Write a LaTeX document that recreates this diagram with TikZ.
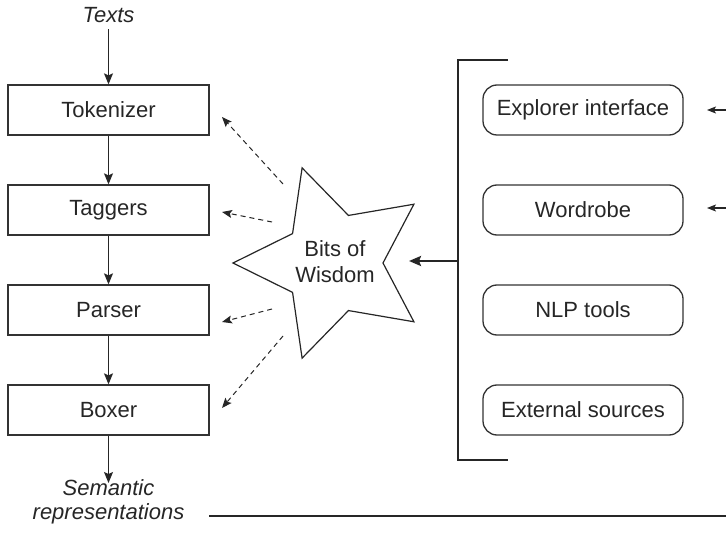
\documentclass[tikz,border=0pt]{standalone}
\usepackage{fontspec}
\setmainfont{Liberation Sans}
\usetikzlibrary{shapes.geometric,arrows.meta}
\begin{document}
\begin{tikzpicture}[x=1pt,y=-1pt,
  every node/.style={font=\fontsize{22}{26}\selectfont, text=black!85},
  stagebox/.style={draw=black!80, line width=1.3pt, minimum width=201pt, minimum height=50pt, inner sep=0pt},
  srcbox/.style={draw=black!80, line width=1.3pt, rounded corners=14pt, minimum width=200pt, minimum height=50pt, inner sep=0pt},
  flow/.style={draw=black!85, line width=1.2pt, -{Stealth[length=11pt,width=9pt,inset=2pt]}},
  hint/.style={draw=black!85, line width=1pt, dash pattern=on 5pt off 4pt, -{Stealth[length=10pt,width=8pt,inset=2pt]}},
  feed/.style={draw=black!85, line width=2.4pt, -{Stealth[length=12pt,width=10pt,inset=2pt]}},
  side/.style={draw=black!85, line width=1.2pt, -{Stealth[length=9pt,width=7pt,inset=2pt]}}
]
\useasboundingbox (0,0) rectangle (726,540);

% pipeline
\node[font=\fontsize{22}{26}\selectfont\itshape] (texts) at (108.5,15) {Texts};
\node[stagebox] (tok) at (108.5,110) {Tokenizer};
\node[stagebox] (tag) at (108.5,210) {Taggers};
\node[stagebox] (par) at (108.5,310) {Parser};
\node[stagebox] (box) at (108.5,410) {Boxer};
\node[font=\fontsize{22}{23.5}\selectfont\itshape, align=center] (sem) at (108.5,502) {Semantic\\representations};

\draw[flow] (texts.south) ++(0,3) coordinate (t0) -- (tok.north);
\draw[flow] (tok.south) -- (tag.north);
\draw[flow] (tag.south) -- (par.north);
\draw[flow] (par.south) -- (box.north);
\draw[flow] (box.south) -- (108.5,483) coordinate (semtop);

% star
\node[star, star points=5, star point ratio=2, shape border rotate=90,
      minimum size=200pt, inner sep=0pt, draw=black!85, line width=1.2pt,
      align=center] (bow) at (333,263) {};
\node[align=center] (bowtxt) at (335,262) {Bits of\\Wisdom};

% dashed hints
\coordinate (s1) at (283,184);
\coordinate (e1) at (222,117);
\coordinate (s2) at (272,222);
\coordinate (e2) at (222,212);
\coordinate (s3) at (272,309);
\coordinate (e3) at (222,322);
\coordinate (s4) at (283,336);
\coordinate (e4) at (222,408);
\draw[hint] (s1) -- (e1);
\draw[hint] (s2) -- (e2);
\draw[hint] (s3) -- (e3);
\draw[hint] (s4) -- (e4);

% sources
\node[srcbox] (exp) at (583,110) {Explorer interface};
\node[srcbox] (wrd) at (583,210) {Wordrobe};
\node[srcbox] (nlp) at (583,310) {NLP tools};
\node[srcbox] (ext) at (583,410) {External sources};

% bracket
\coordinate (bt) at (508,60);
\coordinate (bb) at (508,460);
\draw[draw=black!85, line width=2.4pt] (bt) -- (458,60) -- (458,460) -- (bb);
\coordinate (brk) at (458,261);
\coordinate (bwin) at (409,261);
\draw[feed] (brk) -- (bwin);

% side arrows (cut at the edge)
\coordinate (r1) at (727,110);
\coordinate (r2) at (727,208);
\draw[side] (r1) -- (707,110);
\draw[side] (r2) -- (707,208);

% bottom rule
\coordinate (l0) at (209,516);
\coordinate (l1) at (726,516);
\draw[draw=black!85, line width=1.2pt] (l0) -- (l1);
\end{tikzpicture}
\end{document}
